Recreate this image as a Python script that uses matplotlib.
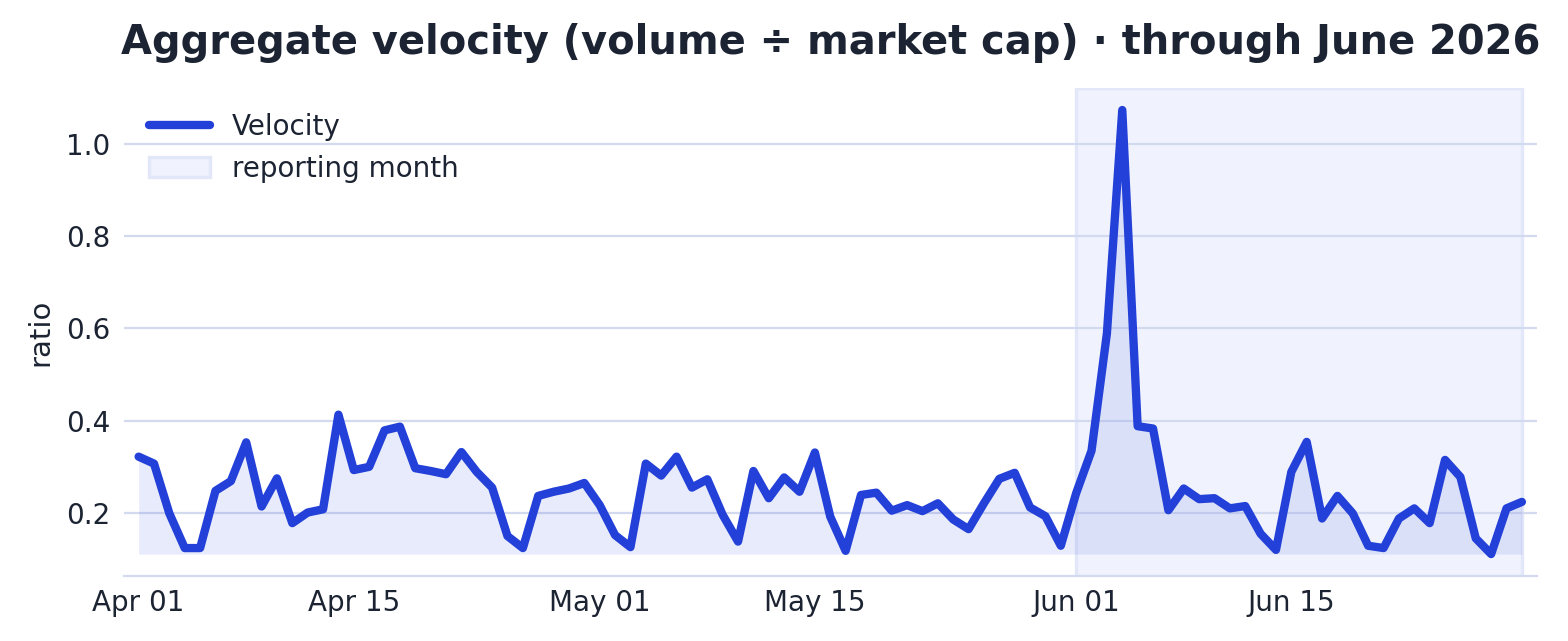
import numpy as np
import pandas as pd
import matplotlib
matplotlib.use("Agg")
import matplotlib.pyplot as plt
import matplotlib.dates as mdates

# daily velocity readings, Apr 1 - Jun 30 2026
dates = pd.date_range("2026-04-01", "2026-06-30", freq="D")
april = [0.322, 0.307, 0.199, 0.124, 0.124, 0.248, 0.269, 0.353, 0.214, 0.275,
         0.178, 0.201, 0.208, 0.413, 0.293, 0.300, 0.379, 0.387, 0.297, 0.291,
         0.284, 0.332, 0.289, 0.255, 0.150, 0.124, 0.237, 0.246, 0.253, 0.265]
may = [0.217, 0.152, 0.126, 0.307, 0.281, 0.322, 0.255, 0.273, 0.196, 0.138,
       0.291, 0.232, 0.277, 0.246, 0.331, 0.192, 0.118, 0.239, 0.244, 0.205,
       0.217, 0.204, 0.221, 0.186, 0.165, 0.221, 0.274, 0.287, 0.212, 0.193,
       0.129]
june = [0.243, 0.335, 0.589, 1.073, 0.388, 0.383, 0.206, 0.253, 0.230, 0.232,
        0.210, 0.215, 0.155, 0.120, 0.289, 0.354, 0.188, 0.237, 0.199, 0.129,
        0.124, 0.188, 0.210, 0.178, 0.315, 0.278, 0.145, 0.111, 0.210, 0.224]
velocity = np.array(april + may + june)

span_start = pd.Timestamp("2026-06-01")
span_end = pd.Timestamp("2026-06-30")

line_color = "#2340d8"
text_color = "#1c2433"
grid_color = "#d3daf0"

fig = plt.figure(figsize=(7.84, 3.205), dpi=200)
ax = fig.add_axes([0.079, 0.101, 0.901, 0.762])

ax.plot(dates, velocity, color=line_color, linewidth=3.0, label="Velocity",
        solid_capstyle="round", solid_joinstyle="round", zorder=3)
ax.axvspan(span_start, span_end, facecolor="#f0f3fd", edgecolor="#e2e7f9",
           linewidth=1.2, label="reporting month", zorder=0)
ax.fill_between(dates, velocity, velocity.min(), color=line_color, alpha=0.10,
                linewidth=0, zorder=1)

pad = pd.Timedelta(days=0.96)
ax.set_xlim(dates[0] - pad, dates[-1] + pad)
ax.margins(y=0.05)

ax.xaxis.set_major_locator(mdates.DayLocator(bymonthday=[1, 15]))
ax.xaxis.set_major_formatter(mdates.DateFormatter("%b %d"))
ax.set_yticks([0.2, 0.4, 0.6, 0.8, 1.0])

ax.grid(axis="y", color=grid_color, linewidth=0.8, zorder=0.5)
ax.set_axisbelow(True)
for side in ["top", "right", "left"]:
    ax.spines[side].set_visible(False)
ax.spines["bottom"].set_color(grid_color)
ax.spines["bottom"].set_linewidth(0.8)
ax.tick_params(length=0, labelsize=10, colors=text_color)
ax.tick_params(axis="x", pad=4.5)
ax.tick_params(axis="y", pad=5)

ax.set_ylabel("ratio", fontsize=10.5, color=text_color)
ax.set_title("Aggregate velocity (volume ÷ market cap) · through June 2026",
             fontsize=14.4, fontweight="bold", color=text_color, pad=12)

leg = ax.legend(loc="upper left", frameon=False, fontsize=10,
                handlelength=2.2, labelcolor=text_color)

fig.savefig("out.png", dpi=200)
